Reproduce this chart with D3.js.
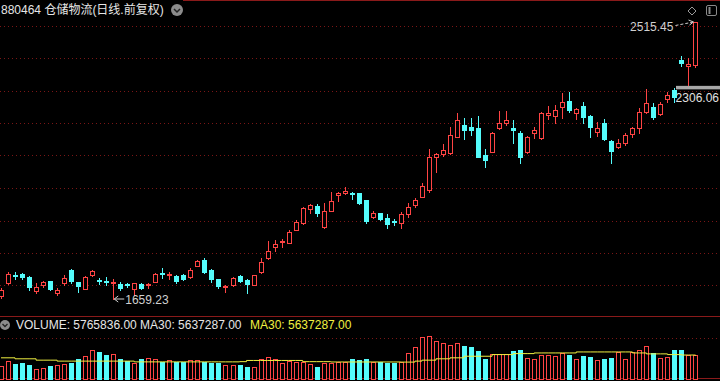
<!DOCTYPE html>
<html><head><meta charset="utf-8">
<script src="https://cdn.jsdelivr.net/npm/d3@7"></script>
<style>html,body{margin:0;padding:0;background:#000;overflow:hidden}</style>
</head><body><div id="chart"></div>
<script>
const opens=[1668.5,1707.1,1734.8,1737.9,1728.0,1684.8,1700.9,1714.8,1676.8,1707.7,1748.7,1711.7,1691.0,1733.3,1717.9,1715.7,1707.1,1704.6,1705.5,1689.2,1704.6,1702.5,1712.6,1738.5,1734.8,1731.7,1734.2,1728.0,1761.1,1780.5,1748.7,1719.4,1696.3,1700.9,1730.8,1717.9,1702.5,1741.0,1784.8,1818.8,1834.5,1833.0,1872.1,1892.8,1936.0,1946.2,1880.5,1931.7,1980.1,1985.3,1986.3,1985.3,1964.7,1911.3,1923.6,1910.1,1899.3,1892.8,1920.6,1949.3,1974.9,1995.6,2098.3,2106.6,2110.6,2160.0,2196.1,2190.9,2187.8,2103.5,2113.7,2185.9,2203.2,2185.9,2170.5,2113.7,2170.5,2155.1,2226.9,2223.9,2252.6,2271.1,2234.0,2254.7,2223.9,2173.6,2201.3,2147.7,2127.3,2139.6,2168.3,2185.9,2235.3,2252.6,2229.1,2276.3,2305.6,2396.7,2379.1,2381.2];
const highs=[1693.2,1742.5,1742.5,1739.5,1730.2,1707.6,1715.7,1715.4,1693.2,1733.3,1750.3,1713.2,1730.2,1747.2,1724.0,1727.1,1720.0,1712.6,1709.5,1708.6,1707.1,1709.5,1739.5,1754.0,1743.5,1733.3,1736.3,1753.4,1779.6,1784.8,1750.3,1720.9,1702.5,1725.6,1733.3,1720.0,1734.8,1784.8,1837.3,1841.3,1843.4,1872.1,1903.0,1944.0,1952.4,1952.4,1956.4,1990.3,1990.3,2003.9,1990.3,1986.3,1964.7,1930.7,1925.5,1921.5,1905.2,1928.6,1956.4,1969.9,2018.1,2121.1,2108.2,2136.6,2190.9,2232.2,2218.6,2216.8,2223.9,2121.1,2174.5,2240.2,2240.2,2211.5,2178.5,2162.2,2190.9,2237.1,2254.7,2257.8,2293.9,2298.9,2247.6,2268.0,2226.9,2206.3,2213.7,2149.8,2152.9,2172.3,2190.9,2247.6,2306.2,2264.9,2268.0,2298.9,2309.4,2409.0,2402.2,2515.45];
const lows=[1662.3,1704.0,1721.0,1720.0,1687.0,1678.7,1695.3,1687.0,1673.1,1702.5,1707.7,1681.7,1690.1,1731.7,1705.5,1702.5,1659.23,1687.0,1696.3,1671.6,1690.1,1692.2,1711.7,1723.1,1720.0,1707.7,1717.9,1723.1,1759.6,1738.5,1712.6,1692.2,1681.7,1699.3,1713.2,1678.7,1700.9,1739.5,1782.7,1808.3,1818.8,1831.1,1870.6,1889.7,1923.6,1915.3,1878.3,1930.7,1961.6,1984.7,1966.8,1952.4,1892.8,1908.2,1903.0,1877.4,1887.6,1877.4,1913.2,1944.0,1973.9,1990.3,2052.0,2100.4,2106.6,2159.1,2152.9,2165.2,2097.0,2065.6,2112.8,2185.3,2196.1,2139.6,2079.8,2108.8,2155.1,2152.0,2213.7,2201.3,2216.8,2236.2,2213.7,2201.3,2160.0,2163.1,2149.8,2077.9,2126.1,2134.4,2160.0,2170.5,2232.2,2213.7,2226.9,2268.0,2268.0,2379.1,2319.5,2375.9];
const closes=[1687.0,1737.9,1731.7,1728.6,1696.3,1697.2,1712.6,1689.2,1688.5,1722.5,1714.8,1699.3,1728.0,1745.6,1714.8,1712.6,1710.2,1692.2,1702.5,1707.1,1692.2,1705.5,1737.9,1735.4,1737.9,1715.7,1720.3,1748.7,1778.0,1741.6,1720.0,1697.8,1699.3,1724.0,1715.4,1706.4,1733.3,1774.3,1805.8,1829.0,1837.6,1866.9,1895.9,1940.9,1949.3,1923.6,1931.7,1961.6,1985.3,1992.5,1983.2,1956.4,1900.8,1923.6,1906.1,1889.7,1896.2,1920.6,1942.2,1964.7,2007.9,2098.3,2106.6,2119.0,2165.2,2211.5,2180.7,2180.7,2098.3,2088.1,2172.3,2203.2,2211.5,2180.7,2096.4,2160.0,2180.7,2232.2,2232.2,2242.4,2268.0,2242.4,2244.5,2221.7,2190.9,2185.9,2152.9,2116.8,2141.5,2165.2,2185.9,2237.1,2263.1,2221.7,2260.9,2288.7,2281.6,2386.5,2383.4,2515.45];
const volumes=[3140000,4330000,3550000,3780000,3310000,2360000,2770000,3140000,3380000,3710000,3950000,4890000,5510000,7090000,6450000,5910000,6080000,4890000,4330000,3950000,4730000,5130000,4890000,4090000,4560000,4090000,4090000,4560000,4560000,4090000,3780000,3780000,3310000,3310000,3310000,3000000,3000000,4890000,5270000,4890000,3780000,4330000,4090000,4090000,3550000,3000000,3950000,3950000,4090000,4090000,4730000,4490000,4890000,4090000,4090000,3950000,3950000,4090000,6310000,7730000,10090000,10400000,9220000,8820000,8270000,8820000,8040000,7730000,6860000,4730000,6150000,6150000,6150000,6860000,7090000,5130000,4730000,5910000,5910000,5670000,6310000,5910000,4730000,5510000,5270000,4490000,4890000,5130000,6450000,4730000,6450000,6930000,7870000,6310000,5130000,5370000,6930000,6930000,5740000,5765836];
const ma30=[5130000,5130000,4890000,4890000,4890000,4560000,4560000,4560000,4330000,4330000,4330000,4330000,4330000,4330000,4330000,4330000,4330000,4330000,4330000,4150000,4150000,4150000,4150000,4150000,4150000,4150000,4150000,4150000,4150000,4150000,4150000,4150000,4150000,4150000,4200000,4490000,4490000,4490000,4490000,4490000,4490000,4490000,4490000,4200000,4200000,4200000,4200000,4120000,4120000,4120000,4120000,4120000,4120000,4120000,4120000,4120000,4120000,4090000,4090000,4330000,4560000,4560000,4890000,4890000,5130000,5130000,5510000,5510000,5510000,5510000,5910000,5910000,5910000,6150000,6150000,6150000,6310000,6310000,6310000,6310000,6310000,6310000,6550000,6550000,6550000,6550000,6550000,6550000,6550000,6550000,6310000,6310000,6080000,6080000,6080000,5910000,5910000,5800000,5800000,5637287];
const gridPrices=[2503,2403,2302.5,2202,2102,2001.5,1901,1801,1701];
const volGrid=[10000000];
const highLabel=2515.45, lowLabel=1659.23, markPrice=2306.06;
const titleText="880464 仓储物流(日线.前复权)";
const volText="VOLUME: 5765836.00 MA30: 5637287.00";
const ma30Text="MA30: 5637287.00";

const W=720,H=381;
const RED="#ff4444", CYAN="#54fcfc", GRID="#7a1616", FONT="'Liberation Sans',Arial,'Noto Sans CJK SC',sans-serif";
const svg=d3.select('#chart').append('svg').attr('width',W).attr('height',H).style('background','#000').style('display','block');
const n=opens.length, idx=d3.range(n);
const x=d3.scaleBand().domain(idx).range([-2.5075,699.0075]).paddingInner(0.35).paddingOuter(0.175);
const y=d3.scaleLinear().domain([lowLabel,highLabel]).range([299,21.5]);
const yv=d3.scaleLinear().domain([0,10000000]).range([379,337.7]);
const left=i=>Math.round(x(i)+x.bandwidth()/2)-2;

// borders / grid
svg.append('line').attr('x1',183).attr('x2',W).attr('y1',0.5).attr('y2',0.5).attr('stroke','#8a1a1a');
svg.append('line').attr('x1',0).attr('x2',W).attr('y1',316.5).attr('y2',316.5).attr('stroke','#8a1a1a');
svg.append('line').attr('x1',0).attr('x2',W).attr('y1',378.5).attr('y2',378.5).attr('stroke','#8a1a1a');
svg.selectAll('.g').data(gridPrices).join('line').attr('x1',0).attr('x2',W)
  .attr('y1',d=>Math.round(y(d))+0.5).attr('y2',d=>Math.round(y(d))+0.5)
  .attr('stroke',GRID).attr('stroke-dasharray','1,3');
svg.selectAll('.vg').data(volGrid).join('line').attr('x1',0).attr('x2',W)
  .attr('y1',d=>Math.round(yv(d))+0.5).attr('y2',d=>Math.round(yv(d))+0.5)
  .attr('stroke',GRID).attr('stroke-dasharray','1,3');

// candles
const cg=svg.append('g').attr('shape-rendering','crispEdges');
idx.forEach(i=>{
  const o=opens[i],c=closes[i],h=highs[i],l=lows[i];
  const up=c>=o, col=up?RED:CYAN, L=left(i);
  const top=Math.round(y(Math.max(o,c))), bot=Math.round(y(Math.min(o,c)));
  const yh=Math.round(y(h)), yl=Math.round(y(l));
  cg.append('line').attr('x1',L+2.5).attr('x2',L+2.5).attr('y1',yh).attr('y2',yl+1).attr('stroke',col);
  if(bot-top<1){
    cg.append('line').attr('x1',L).attr('x2',L+5).attr('y1',top+0.5).attr('y2',top+0.5).attr('stroke',col);
  } else if(up){
    cg.append('rect').attr('x',L+0.5).attr('y',top+0.5).attr('width',4).attr('height',bot-top).attr('fill','#000').attr('stroke',col);
  } else {
    cg.append('rect').attr('x',L).attr('y',top).attr('width',5).attr('height',bot-top+1).attr('fill',col);
  }
});

// volume bars
const vg=svg.append('g').attr('shape-rendering','crispEdges');
idx.forEach(i=>{
  const up=closes[i]>=opens[i], L=left(i), t=Math.round(yv(volumes[i]));
  if(up) vg.append('rect').attr('x',L+0.5).attr('y',t+0.5).attr('width',4).attr('height',379-t).attr('fill','#000').attr('stroke',RED);
  else vg.append('rect').attr('x',L).attr('y',t).attr('width',5).attr('height',380-t).attr('fill',CYAN);
});
svg.append('path').datum(ma30).attr('fill','none').attr('stroke','#f0f040').attr('stroke-width',1)
  .attr('d',d3.line().x((d,i)=>x(i)+x.bandwidth()/2).y(d=>yv(d)).curve(d3.curveStepAfter));

// annotations
const xi=i=>x(i)+x.bandwidth()/2;
const iHigh=highs.indexOf(highLabel), iLow=lows.indexOf(lowLabel);
const hx=xi(iHigh), hy=y(highLabel);
svg.append('line').attr('x1',hx-20).attr('y1',hy+4).attr('x2',hx-2).attr('y2',hy+0.5).attr('stroke','#d0d0d0').attr('stroke-dasharray','3,2');
svg.append('path').attr('d',`M${hx-2},${hy+0.5} l-5,-2 M${hx-2},${hy+0.5} l-4,3`).attr('stroke','#d0d0d0').attr('fill','none');
svg.append('text').attr('x',hx-22).attr('y',hy+9).attr('text-anchor','end').attr('fill','#d0d0d0')
  .style('font',`12px ${FONT}`).text(highLabel.toFixed(2));
const lx=xi(iLow), ly=y(lowLabel);
svg.append('line').attr('x1',lx+1).attr('y1',ly).attr('x2',lx+11).attr('y2',ly).attr('stroke','#d0d0d0');
svg.append('path').attr('d',`M${lx+1},${ly} l4,-3 M${lx+1},${ly} l4,3`).attr('stroke','#d0d0d0').attr('fill','none');
svg.append('text').attr('x',lx+12).attr('y',ly+5).attr('fill','#d0d0d0').style('font',`12px ${FONT}`).text(lowLabel.toFixed(2));
const my=y(markPrice);
svg.append('rect').attr('x',676).attr('y',my-3.5).attr('width',44).attr('height',3.5).attr('fill','#a8a8a8');
svg.append('text').attr('x',719).attr('y',my+13).attr('text-anchor','end').attr('fill','#e0e0e0').style('font',`12px ${FONT}`).text(markPrice.toFixed(2));

// icons
svg.append('path').attr('d','M692,7 l4,4 l-4,4 l-4,-4 z').attr('fill','none').attr('stroke','#9a9a9a');
svg.append('rect').attr('x',706.5).attr('y',5.5).attr('width',10).attr('height',10).attr('rx',1.5).attr('fill','none').attr('stroke','#8a8a8a');
svg.append('line').attr('x1',709.5).attr('x2',709.5).attr('y1',7).attr('y2',14).attr('stroke','#8a8a8a').attr('stroke-width',2);

// title
svg.append('text').attr('x',1).attr('y',14).attr('fill','#e6e6e6').style('font',`12px ${FONT}`).text(titleText);
svg.append('circle').attr('cx',177).attr('cy',10).attr('r',6).attr('fill','#8c8c8c');
svg.append('path').attr('d','M174,9 l3,3 l3,-3').attr('stroke','#222').attr('stroke-width',1.5).attr('fill','none');

// volume title
svg.append('circle').attr('cx',5).attr('cy',325).attr('r',5).attr('fill','#8c8c8c');
svg.append('path').attr('d','M2.5,324 l2.5,2.5 l2.5,-2.5').attr('stroke','#222').attr('stroke-width',1.3).attr('fill','none');
svg.append('text').attr('x',16).attr('y',329).attr('fill','#e6e6e6').style('font',`12px ${FONT}`).text(volText);
svg.append('text').attr('x',250).attr('y',329).attr('fill','#f0f040').style('font',`12px ${FONT}`).text(ma30Text);
</script></body></html>
